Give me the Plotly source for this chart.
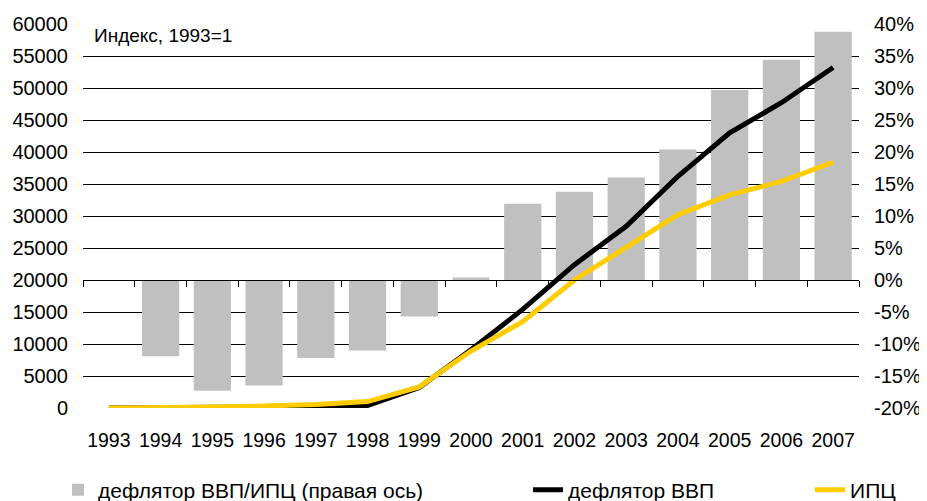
import plotly.graph_objects as go

years = [str(y) for y in range(1993, 2008)]
ratio_pct = [None, -11.9, -17.3, -16.5, -12.2, -11.0, -5.7, 0.4, 11.9, 13.8, 16.0, 20.4, 29.7, 34.4, 38.8]
gdp_deflator = [1, 10, 70, 150, 250, 400, 3200, 9100, 15400, 22400, 28400, 36200, 43000, 47700, 53200]
cpi = [1, 20, 150, 300, 550, 1000, 3300, 8900, 13500, 20000, 25200, 30200, 33300, 35400, 38400]

left_ticks = list(range(0, 60001, 5000))
right_ticks = list(range(-20, 41, 5))

FONT = "Liberation Sans, Arial, sans-serif"

fig = go.Figure()
fig.add_trace(go.Bar(
    x=years, y=ratio_pct, name="дефлятор ВВП/ИПЦ (правая ось)",
    marker=dict(color="#C0C0C0", line=dict(width=0)),
    xaxis="x", yaxis="y", legend="legend",
))
fig.add_trace(go.Scatter(
    x=years, y=gdp_deflator, name="дефлятор ВВП", mode="lines",
    line=dict(color="#000000", width=5),
    xaxis="x2", yaxis="y2", legend="legend2",
))
fig.add_trace(go.Scatter(
    x=years, y=cpi, name="ИПЦ", mode="lines",
    line=dict(color="#FFCC00", width=5),
    xaxis="x2", yaxis="y2", legend="legend3",
))

legend_common = dict(orientation="h", yanchor="middle", y=-0.2135,
                     font=dict(family=FONT, size=21, color="#000"),
                     bgcolor="rgba(0,0,0,0)", borderwidth=0)

fig.update_layout(
    width=927, height=501,
    margin=dict(l=75, r=76, t=16, b=101, autoexpand=False),
    paper_bgcolor="white", plot_bgcolor="white",
    font=dict(family=FONT, size=20, color="#000"),
    bargap=0.28,
    showlegend=True,
    xaxis=dict(
        type="category", categoryorder="array", categoryarray=years,
        range=[-0.5, 14.5], anchor="free", position=1/3,
        showline=True, linecolor="#000", linewidth=1,
        ticks="outside", tickson="boundaries", ticklen=6, tickcolor="#000",
        showticklabels=False, showgrid=False, zeroline=False, automargin=False,
    ),
    yaxis=dict(
        side="right", range=[-20, 40], tickvals=right_ticks,
        ticktext=[f"{v}%" for v in right_ticks],
        showgrid=True, gridcolor="#000", gridwidth=1, zeroline=False,
        showline=False, ticks="", ticklabelstandoff=14, automargin=False,
        tickfont=dict(family=FONT, size=20),
    ),
    xaxis2=dict(
        type="category", categoryorder="array", categoryarray=years,
        range=[-0.5, 14.5], overlaying="x", anchor="y2", side="bottom",
        showline=False, ticks="", showgrid=False, zeroline=False, automargin=False,
        ticklabelstandoff=18, tickfont=dict(family=FONT, size=19.5),
    ),
    yaxis2=dict(
        overlaying="y", side="left", anchor="x2", range=[0, 60000],
        tickvals=left_ticks, tickformat="d", automargin=False,
        showgrid=False, zeroline=False, showline=False, ticks="",
        ticklabelstandoff=14, tickfont=dict(family=FONT, size=20),
    ),
    legend=dict(x=-0.0322, xanchor="left", **legend_common),
    legend2=dict(x=0.5735, xanchor="left", **legend_common),
    legend3=dict(x=0.9369, xanchor="left", **legend_common),
    annotations=[dict(
        text="Индекс, 1993=1", xref="paper", yref="paper",
        x=0.0116, y=0.969, xanchor="left", yanchor="middle",
        showarrow=False, font=dict(family=FONT, size=19, color="#000"),
    )],
)

fig.write_html("out.html")
